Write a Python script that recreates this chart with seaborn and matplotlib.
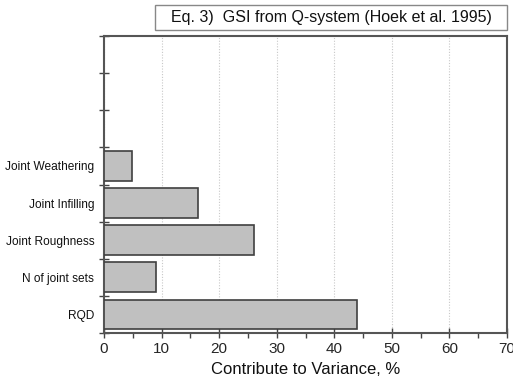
import matplotlib
matplotlib.use("Agg")
import matplotlib.pyplot as plt
import seaborn as sns
import pandas as pd
from matplotlib.ticker import FixedLocator, MultipleLocator
from matplotlib.patches import Rectangle

categories = ["Joint Weathering", "Joint Infilling", "Joint Roughness", "N of joint sets", "RQD"]
values = [4.8, 16.3, 26.0, 9.0, 44.0]
xticks = [0, 10, 20, 30, 40, 50, 60, 70]
title = "Eq. 3)  GSI from Q-system (Hoek et al. 1995)"
xlabel = "Contribute to Variance, %"

sns.set_style("white")
plt.rcParams['font.family'] = ['Liberation Sans', 'DejaVu Sans']

df = pd.DataFrame({"cat": categories, "val": values})

fig = plt.figure(figsize=(5.13, 3.82), dpi=100)
ax = fig.add_axes([104/513, 49/382, 403/513, 297/382])

sns.barplot(data=df, x="val", y="cat", order=categories, orient="h",
            color="#c0c0c0", saturation=1, width=0.8,
            edgecolor="#404040", linewidth=1.2, ax=ax, zorder=3)

ax.set_xlim(0, 70)
ax.set_ylim(4.5, -3.5)
ax.xaxis.set_major_locator(FixedLocator(xticks))
ax.xaxis.set_minor_locator(MultipleLocator(5))
ax.grid(axis="x", which="major", linestyle=(0, (1, 1.5)), color="#c8c8c8", linewidth=0.8, zorder=0)
ax.set_axisbelow(True)

ax.set_yticks(range(len(categories)))
ax.set_yticklabels(categories)
ax.yaxis.set_minor_locator(FixedLocator([i - 0.5 for i in range(-3, 6)]))
ax.tick_params(axis="y", which="major", length=0, pad=7, labelsize=8.6, labelcolor="#111111")
ax.tick_params(axis="y", which="minor", direction="inout", length=7, width=1, color="#444444", left=True)
ax.tick_params(axis="x", which="major", direction="inout", length=7, width=1, color="#444444", labelsize=11, pad=3, bottom=True)
ax.tick_params(axis="x", which="minor", direction="out", length=3.5, width=1, color="#444444", bottom=True)

for s in ax.spines.values():
    s.set_color("#555555")
    s.set_linewidth(1.5)
    s.set_visible(True)

ax.set_xlabel(xlabel, fontsize=12, labelpad=4, color="#111111")
ax.set_ylabel("")

fig.patches.append(Rectangle((155/513, 1 - 30/382), 352/513, 25/382, transform=fig.transFigure,
                             facecolor="white", edgecolor="#888888", linewidth=1))
fig.text(331/513, 1 - 17.5/382, title, ha="center", va="center", fontsize=11.5, color="#111111")

fig.savefig("out.png", dpi=100)
